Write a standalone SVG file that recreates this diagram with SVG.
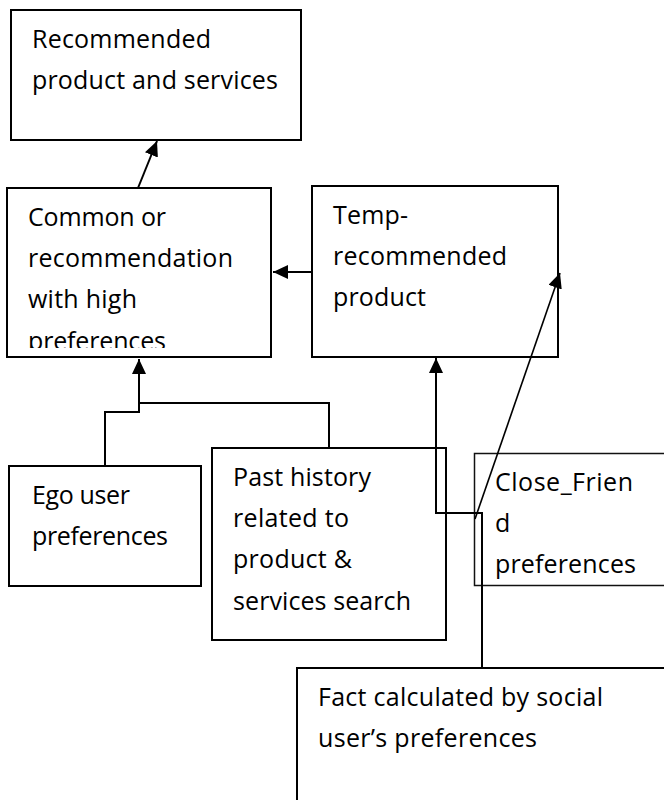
<svg xmlns="http://www.w3.org/2000/svg" width="664" height="800" viewBox="0 0 664 800">
  <style>
    .box { fill: #ffffff; stroke: #000000; stroke-width: 2; }
    .thin { stroke-width: 1.5; stroke: #111111; }
    .lbl { font-family: "Open Sans", "Noto Sans", "Liberation Sans", sans-serif; font-size: 25px; fill: #000000; }
    .wire { fill: none; stroke: #000000; stroke-width: 2; }
    .wire-thin { fill: none; stroke: #000000; stroke-width: 1.6; }
  </style>
  <defs>
    <marker id="head" viewBox="0 0 10 10" refX="10" refY="5" markerWidth="15" markerHeight="14" markerUnits="userSpaceOnUse" orient="auto" preserveAspectRatio="none">
      <path d="M0,0 L10,5 L0,10 Z" fill="#000000"/>
    </marker>
    <clipPath id="clip-common">
      <rect x="7" y="188" width="264" height="160"/>
    </clipPath>
  </defs>

  <g id="node-recommended">
    <rect class="box" x="11" y="10" width="290" height="130"/>
    <text class="lbl" x="32" y="48" textLength="179">Recommended</text>
    <text class="lbl" x="32" y="89" textLength="246">product and services</text>
  </g>

  <g id="node-common">
    <rect class="box" x="7" y="188" width="264" height="169"/>
    <g clip-path="url(#clip-common)">
      <text class="lbl" x="28" y="226" textLength="138">Common or</text>
      <text class="lbl" x="28" y="267" textLength="205">recommendation</text>
      <text class="lbl" x="28" y="308" textLength="109">with high</text>
      <text class="lbl" x="28" y="350" textLength="138">preferences</text>
    </g>
  </g>

  <g id="node-temp">
    <rect class="box" x="312" y="186" width="246" height="171"/>
    <text class="lbl" x="333" y="224" textLength="75">Temp-</text>
    <text class="lbl" x="333" y="265" textLength="174">recommended</text>
    <text class="lbl" x="333" y="306" textLength="93">product</text>
  </g>

  <g id="node-ego">
    <rect class="box" x="9" y="466" width="192" height="120"/>
    <text class="lbl" x="32" y="504" textLength="98">Ego user</text>
    <text class="lbl" x="32" y="545" textLength="136">preferences</text>
  </g>

  <g id="node-past">
    <rect class="box" x="212" y="448" width="234" height="192"/>
    <text class="lbl" x="233" y="486" textLength="138">Past history</text>
    <text class="lbl" x="233" y="527" textLength="116">related to</text>
    <text class="lbl" x="233" y="568" textLength="119">product &amp;</text>
    <text class="lbl" x="233" y="610" textLength="178">services search</text>
  </g>

  <g id="node-close-friend">
    <rect class="box thin" x="474.5" y="453.5" width="200" height="132"/>
    <text class="lbl" x="495" y="491" textLength="138">Close_Frien</text>
    <text class="lbl" x="495" y="532">d</text>
    <text class="lbl" x="495" y="573" textLength="141">preferences</text>
  </g>

  <g id="node-fact">
    <rect class="box" x="297" y="668" width="380" height="150"/>
    <text class="lbl" x="318" y="706" textLength="285">Fact calculated by social</text>
    <text class="lbl" x="318" y="747" textLength="219">user’s preferences</text>
  </g>

  <g id="connectors">
    <!-- common -> recommended -->
    <line class="wire" x1="138" y1="188" x2="157" y2="141" marker-end="url(#head)"/>
    <!-- temp -> common -->
    <line class="wire" x1="312" y1="272" x2="273" y2="272" marker-end="url(#head)"/>
    <!-- ego + past history -> common -->
    <path class="wire" d="M105,466 V412 H139 V359" marker-end="url(#head)"/>
    <path class="wire" d="M329,448 V403 H139"/>
    <!-- fact -> temp (bottom) -->
    <path class="wire" d="M482,668 V513 H436 V358" marker-end="url(#head)"/>
    <!-- social link -> temp (right side) -->
    <line class="wire-thin" x1="475" y1="519" x2="560" y2="273" marker-end="url(#head)"/>
  </g>
</svg>
